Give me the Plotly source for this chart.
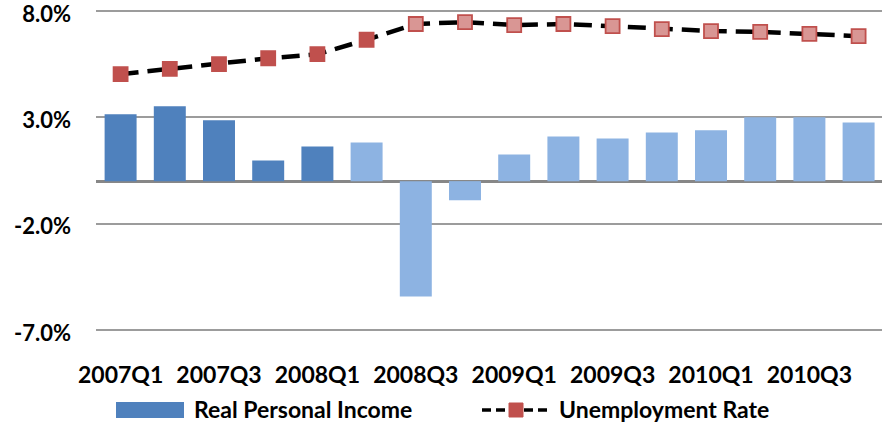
import plotly.graph_objects as go

# Quarterly data
quarters = ["2007Q1", "2007Q2", "2007Q3", "2007Q4", "2008Q1", "2008Q2", "2008Q3", "2008Q4",
            "2009Q1", "2009Q2", "2009Q3", "2009Q4", "2010Q1", "2010Q2", "2010Q3", "2010Q4"]
real_personal_income = [3.14, 3.52, 2.86, 0.97, 1.63, 1.82, -5.43, -0.90,
                        1.25, 2.10, 2.01, 2.29, 2.39, 3.0, 3.0, 2.76]
unemployment_rate = [5.03, 5.28, 5.50, 5.78, 5.97, 6.65, 7.39, 7.48,
                     7.34, 7.39, 7.29, 7.15, 7.06, 7.02, 6.93, 6.82]
tick_labels = quarters[::2]
y_ticks = [-7.0, -2.0, 3.0, 8.0]
y_tick_text = ["-7.0%", "-2.0%", "3.0%", "8.0%"]

# Colours: actual quarters vs. later quarters
BAR_DARK, BAR_LIGHT = "#4F81BD", "#8DB3E2"
MK_DARK, MK_LIGHT, MK_EDGE = "#C0504D", "#D99694", "#C0504D"
n_dark_bars = 5
n_dark_markers = 6

bar_colors = [BAR_DARK if i < n_dark_bars else BAR_LIGHT for i in range(len(quarters))]
marker_colors = [MK_DARK if i < n_dark_markers else MK_LIGHT for i in range(len(quarters))]

W, H = 882, 423
ML, MR, MT, MB = 96, 0, 0, 92
FONT = "Lato"

fig = go.Figure()
fig.add_trace(go.Bar(
    x=quarters, y=real_personal_income, name="Real Personal Income",
    marker=dict(color=bar_colors, line=dict(width=0)),
))
fig.add_trace(go.Scatter(
    x=quarters, y=unemployment_rate, name="Unemployment Rate", mode="lines+markers",
    line=dict(color="black", width=4.5, dash="18px,9px"),
    marker=dict(symbol="square", size=14, color=marker_colors, line=dict(color=MK_EDGE, width=1.8)),
))

# pixel -> paper helpers for the hand-drawn legend
pw, ph = W - ML - MR, H - MT - MB
def px(x):
    return (x - ML) / pw
def py(y):
    return (H - MB - y) / ph

leg_y = 409
shapes = [
    dict(type="rect", xref="paper", yref="paper", x0=px(116), x1=px(184), y0=py(418), y1=py(402),
         fillcolor=BAR_DARK, line=dict(width=0)),
    dict(type="line", xref="paper", yref="paper", x0=px(482), x1=px(550), y0=py(410), y1=py(410),
         line=dict(color="black", width=3.5, dash="9px,5px")),
    dict(type="rect", xref="paper", yref="paper", x0=px(509), x1=px(523), y0=py(417), y1=py(403),
         fillcolor=MK_DARK, line=dict(color=MK_EDGE, width=1)),
]
annotations = [
    dict(text="Real Personal Income", xref="paper", yref="paper", x=px(192), y=py(leg_y),
         xanchor="left", yanchor="middle", showarrow=False,
         font=dict(family=FONT, size=23, color="black", weight="bold")),
    dict(text="Unemployment Rate", xref="paper", yref="paper", x=px(557), y=py(leg_y),
         xanchor="left", yanchor="middle", showarrow=False,
         font=dict(family=FONT, size=23, color="black", weight="bold")),
]

fig.update_layout(
    width=W, height=H,
    margin=dict(l=ML, r=MR, t=MT, b=MB),
    paper_bgcolor="white", plot_bgcolor="white",
    showlegend=False,
    bargap=0.35,
    shapes=shapes, annotations=annotations,
    font=dict(family=FONT, color="black"),
)
fig.update_xaxes(
    type="category", range=[-0.5, -0.5 + pw / 49.2],
    tickvals=tick_labels, ticktext=tick_labels,
    tickfont=dict(family=FONT, size=23, color="black", weight="bold"),
    showgrid=False, showline=False, ticks="", ticklabelstandoff=28, automargin=False,
)
fig.update_yaxes(
    range=[-7.05, 8.52], tickvals=y_ticks, ticktext=y_tick_text,
    tickfont=dict(family=FONT, size=22, color="black", weight="bold"),
    showgrid=True, gridcolor="#9C9C9C", gridwidth=2,
    zeroline=True, zerolinecolor="#878787", zerolinewidth=2.5,
    showline=False, ticks="", ticklabelstandoff=24, ticklabelshift=3,
    ticklabeloverflow="allow", automargin=False,
)

fig.write_html("out.html")
